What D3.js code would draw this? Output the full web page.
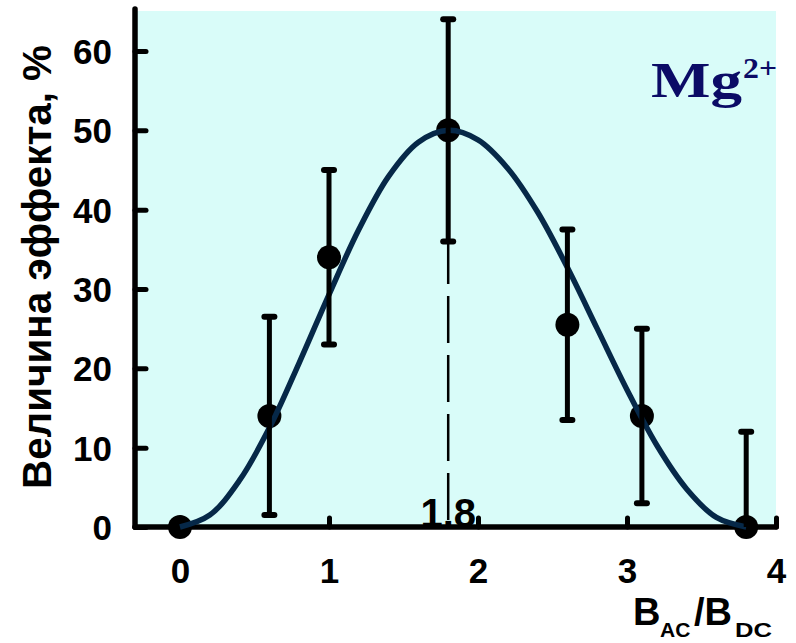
<!DOCTYPE html>
<html><head><meta charset="utf-8">
<script src="https://cdn.jsdelivr.net/npm/d3@7"></script>
<style>html,body{margin:0;padding:0;background:#fff;}svg{display:block;}</style>
</head><body>
<svg id="c" width="796" height="643"></svg>
<script>
// ---- data ----
const pointX   = [0, 0.6, 1.0, 1.8, 2.6, 3.1, 3.8];
const pointY   = [0, 14, 34, 50, 25.5, 14, 0];
const errLow   = [null, 1.5, 23, 36, 13.5, 3, 0];
const errHigh  = [null, 26.5, 45, 64, 37.5, 25, 12];
const curveX   = [0, 0.2, 0.4, 0.6, 0.8, 1.0, 1.2, 1.4, 1.6, 1.8, 2.0, 2.2, 2.4, 2.6, 2.8, 3.0, 3.2, 3.4, 3.6, 3.8];
const curveY   = [0, 1.5, 5.9, 12.5, 20.7, 29.3, 37.5, 44.2, 48.5, 50, 48.8, 45.2, 39.7, 32.7, 25, 17.3, 10.3, 4.8, 1.2, 0];
const peakX    = [1.8];
const peakLabel = ["1.8"];
const xTicks   = [0, 1, 2, 3, 4];
const yTicks   = [0, 10, 20, 30, 40, 50, 60];

const svg = d3.select("#c");
const x = d3.scaleLinear().domain([0, 4]).range([180, 776]);
const y = d3.scaleLinear().domain([0, 60]).range([527, 51]);
const axisX0 = 135, plotTop = 11, axisTop = 9;
const SANS = "'Liberation Sans', Arial, sans-serif";

// background
svg.append("rect").attr("x", axisX0).attr("y", plotTop)
  .attr("width", x(4) - axisX0).attr("height", y(0) - plotTop)
  .attr("fill", "#d9fcf9");

// dashed line at peak
svg.selectAll(".peak").data(peakX).enter().append("line")
  .attr("x1", d => x(d)).attr("x2", d => x(d))
  .attr("y1", y(0)).attr("y2", y(50))
  .attr("stroke", "#000").attr("stroke-width", 2.5)
  .attr("stroke-dasharray", "47,12").attr("stroke-dashoffset", 52);

// peak label
svg.selectAll(".peakl").data(peakX).enter().append("text")
  .attr("x", d => x(d)).attr("y", y(0))
  .attr("text-anchor", "middle")
  .attr("font-family", SANS).attr("font-weight", "bold").attr("font-size", 40)
  .text((d, i) => peakLabel[i]);

// axes
const gx = svg.append("g").attr("transform", `translate(0,${y(0)})`)
  .call(d3.axisBottom(x).tickValues(xTicks).tickFormat(d3.format("d"))
    .tickSize(-9).tickSizeOuter(0).tickPadding(31));
const gy = svg.append("g").attr("transform", `translate(${axisX0},0)`)
  .call(d3.axisLeft(y).tickValues(yTicks).tickFormat(d3.format("d"))
    .tickSize(-11).tickSizeOuter(0).tickPadding(23));
[gx, gy].forEach(g => {
  g.select(".domain").remove();
  g.selectAll(".tick line").attr("stroke", "#000").attr("stroke-width", 5).attr("stroke-linecap", "round");
  g.selectAll(".tick text").attr("fill", "#000").attr("font-family", SANS)
    .attr("font-weight", "bold").attr("font-size", 35);
});
gy.selectAll(".tick text").attr("dy", "0.36em");
// axis lines
svg.append("line").attr("x1", axisX0).attr("x2", axisX0).attr("y1", axisTop).attr("y2", y(0))
  .attr("stroke", "#000").attr("stroke-width", 5.5).attr("stroke-linecap", "round");
svg.append("line").attr("x1", axisX0).attr("x2", x(4)).attr("y1", y(0)).attr("y2", y(0))
  .attr("stroke", "#000").attr("stroke-width", 5.5).attr("stroke-linecap", "round");

// markers
const pts = pointX.map((d, i) => ({x: d, y: pointY[i], lo: errLow[i], hi: errHigh[i]}));
svg.selectAll(".pt").data(pts).enter().append("circle")
  .attr("cx", d => x(d.x)).attr("cy", d => y(d.y)).attr("r", 12).attr("fill", "#000");

// curve
const curveData = curveX.map((d, i) => [d, curveY[i]]);
svg.append("path").datum(curveData)
  .attr("d", d3.line().x(d => x(d[0])).y(d => y(d[1])).curve(d3.curveCatmullRom))
  .attr("fill", "none").attr("stroke", "#062848").attr("stroke-width", 5.5);

// error bars
const eb = pts.filter(d => d.lo !== null);
svg.selectAll(".eb").data(eb).enter().append("line")
  .attr("x1", d => x(d.x)).attr("x2", d => x(d.x))
  .attr("y1", d => y(d.lo)).attr("y2", d => y(d.hi))
  .attr("stroke", "#000").attr("stroke-width", 5);
const caps = [];
eb.forEach(d => { if (d.lo > 0) caps.push({x: d.x, v: d.lo}); caps.push({x: d.x, v: d.hi}); });
svg.selectAll(".cap").data(caps).enter().append("line")
  .attr("x1", d => x(d.x) - 5).attr("x2", d => x(d.x) + 5)
  .attr("y1", d => y(d.v)).attr("y2", d => y(d.v))
  .attr("stroke", "#000").attr("stroke-width", 6).attr("stroke-linecap", "round");

// y-axis title
svg.append("text")
  .attr("transform", "translate(51,267) rotate(-90)")
  .attr("text-anchor", "middle")
  .attr("font-family", SANS).attr("font-weight", "bold").attr("font-size", 41)
  .attr("textLength", 444).attr("lengthAdjust", "spacingAndGlyphs")
  .text("Величина эффекта, %");

// x-axis title
const xt = svg.append("text")
  .attr("font-family", SANS).attr("font-weight", "bold").attr("font-size", 38);
xt.append("tspan").attr("x", 633).attr("y", 625).text("B");
xt.append("tspan").attr("x", 660).attr("y", 637).attr("font-size", 21).text("AC");
xt.append("tspan").attr("x", 694).attr("y", 625).text("/B");
xt.append("tspan").attr("x", 735).attr("y", 637).attr("font-size", 21)
  .attr("textLength", 37).attr("lengthAdjust", "spacingAndGlyphs").text("DC");

// Mg2+ label
const mg = svg.append("text")
  .attr("font-family", "'Liberation Serif', 'Times New Roman', serif")
  .attr("font-weight", "bold").attr("fill", "#0b0b66");
mg.append("tspan").attr("x", 651).attr("y", 97).attr("font-size", 50)
  .attr("textLength", 91).attr("lengthAdjust", "spacingAndGlyphs").text("Mg");
mg.append("tspan").attr("x", 743).attr("y", 78).attr("font-size", 30)
  .attr("textLength", 34).attr("lengthAdjust", "spacingAndGlyphs").text("2+");
</script>
</body></html>
